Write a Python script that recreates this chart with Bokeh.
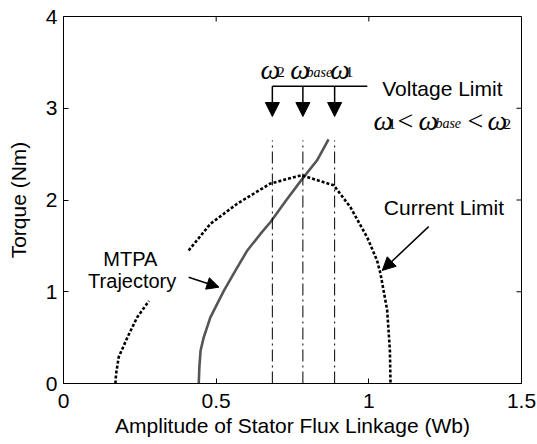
from bokeh.plotting import figure
from bokeh.models import (Range1d, FixedTicker, CustomJSTickFormatter, Label, Arrow,
                          NormalHead, ColumnDataSource)
from bokeh.embed import file_html
from bokeh.resources import INLINE

# ---------------- data ----------------
x_ticks = [0, 0.5, 1, 1.5]
y_ticks = [0, 1, 2, 3, 4]

# MTPA trajectory (solid grey)
mtpa_flux = [0.443, 0.445, 0.449, 0.459, 0.481, 0.525, 0.563, 0.602, 0.645, 0.678, 0.730, 0.782, 0.830, 0.868]
mtpa_torque = [0.00, 0.18, 0.36, 0.50, 0.72, 1.01, 1.23, 1.45, 1.63, 1.76, 2.00, 2.23, 2.43, 2.66]

# current limit (dotted), lower-left part and main part
cur_flux_a = [0.170, 0.172, 0.181, 0.209, 0.241, 0.280]
cur_torque_a = [0.00, 0.10, 0.29, 0.50, 0.72, 0.90]
cur_flux_b = [0.410, 0.481, 0.569, 0.678, 0.780, 0.885, 0.940, 0.995, 1.027, 1.038, 1.060, 1.069, 1.071]
cur_torque_b = [1.45, 1.74, 1.96, 2.18, 2.27, 2.16, 1.92, 1.59, 1.34, 1.20, 0.80, 0.36, 0.00]

# voltage limit lines (omega_2, omega_base, omega_1)
vl_flux = [0.684, 0.784, 0.888]
vl_top = 2.65
vl_bar = 3.24        # horizontal bar of the bracket
vl_tip = 2.91        # arrow tips
vl_bar_end = 0.995

FONT = "Liberation Sans"
SERIF = "Liberation Serif"

X0, X1, Y0, Y1 = 0, 1.5, 0, 4
FRAME_W, FRAME_H = 458, 367
TICK = 5  # px, inward ticks

p = figure(width=537, height=444, x_range=Range1d(X0, X1), y_range=Range1d(Y0, Y1),
           output_backend="svg", toolbar_location=None,
           min_border_left=63, min_border_right=16, min_border_top=16, min_border_bottom=61)
p.background_fill_color = "white"
p.border_fill_color = "white"
p.grid.visible = False
p.outline_line_color = "black"
p.outline_line_width = 1
p.outline_line_alpha = 1

fmt = CustomJSTickFormatter(code="return tick.toString()")
for ax, ticks in ((p.xaxis[0], x_ticks), (p.yaxis[0], y_ticks)):
    ax.ticker = FixedTicker(ticks=ticks)
    ax.formatter = fmt
    ax.major_tick_in = TICK
    ax.major_tick_out = 0
    ax.minor_tick_in = 0
    ax.minor_tick_out = 0
    ax.axis_line_color = "black"
    ax.major_tick_line_color = "black"
    ax.major_label_text_font = FONT
    ax.major_label_text_font_size = "21px"
    ax.major_label_text_color = "black"
    ax.axis_label_text_font = FONT
    ax.axis_label_text_font_size = "21px"
    ax.axis_label_text_font_style = "normal"
    ax.axis_label_text_color = "black"

p.xaxis.axis_label = "Amplitude of Stator Flux Linkage (Wb)"
p.xaxis.major_label_standoff = 10
p.xaxis.axis_label_standoff = 3
p.yaxis.axis_label = "Torque (Nm)"
p.yaxis.major_label_standoff = 6
p.yaxis.axis_label_standoff = 13

# mirror ticks on top and right edges (box on)
dy = TICK * (Y1 - Y0) / FRAME_H
dx = TICK * (X1 - X0) / FRAME_W
p.segment(x0=x_ticks, y0=[Y1] * len(x_ticks), x1=x_ticks, y1=[Y1 - dy] * len(x_ticks),
          line_color="black", line_width=1)
p.segment(x0=[X1] * len(y_ticks), y0=y_ticks, x1=[X1 - dx] * len(y_ticks), y1=y_ticks,
          line_color="black", line_width=1)

# curves
p.line(mtpa_flux, mtpa_torque, line_color="#555555", line_width=2.6)
p.line(cur_flux_a, cur_torque_a, line_color="black", line_width=2.6, line_dash="3 2")
p.line(cur_flux_b, cur_torque_b, line_color="black", line_width=2.6, line_dash="3 2")

# voltage limit dash-dot lines
vl_src = ColumnDataSource(dict(x=vl_flux, y0=[0] * len(vl_flux), y1=[vl_top] * len(vl_flux)))
p.segment(x0="x", y0="y0", x1="x", y1="y1", source=vl_src, line_color="black",
          line_width=1, line_dash="12 4 2 4")

# bracket with arrows
p.segment(x0=[vl_flux[0]], y0=[vl_bar], x1=[vl_bar_end], y1=[vl_bar], line_color="black", line_width=1.5)
for xv in vl_flux:
    p.add_layout(Arrow(end=NormalHead(size=14, fill_color="black", line_color="black"),
                       x_start=xv, y_start=vl_bar, x_end=xv, y_end=vl_tip,
                       line_color="black", line_width=1.5))

# annotation arrows
p.add_layout(Arrow(end=NormalHead(size=12, fill_color="black", line_color="black"),
                   x_start=0.410, y_start=1.158, x_end=0.509, y_end=1.05,
                   line_color="black", line_width=1.5))
p.add_layout(Arrow(end=NormalHead(size=13, fill_color="black", line_color="black"),
                   x_start=1.196, y_start=1.71, x_end=1.044, y_end=1.232,
                   line_color="black", line_width=1.5))


def lab(text, x, y, size="21px", font=FONT, style="normal", align="left"):
    p.add_layout(Label(x=x, y=y, text=text, text_font=font, text_font_size=size,
                       text_font_style=style, text_align=align, text_baseline="alphabetic",
                       text_color="black"))


lab("Voltage Limit", 1.044, 3.215)
lab("Current Limit", 1.049, 1.918)
lab("MTPA", 0.219, 1.355, size="20px", align="center")
lab("Trajectory", 0.225, 1.112, size="20px", align="center")

OM = "28px"
SUB = "15px"
BASE = "14px"
# row 1: omega_2  omega_base  omega_1
lab("\u03c9", 0.645, 3.425, size=OM, font=SERIF, style="italic")
lab("2", 0.700, 3.392, size=SUB, font=SERIF)
lab("\u03c9", 0.743, 3.425, size=OM, font=SERIF, style="italic")
lab("base", 0.796, 3.387, size=BASE, font=SERIF, style="italic")
lab("\u03c9", 0.874, 3.425, size=OM, font=SERIF, style="italic")
lab("1", 0.924, 3.392, size=SUB, font=SERIF)
# row 2: omega_1 < omega_base < omega_2
lab("\u03c9", 1.015, 2.863, size=OM, font=SERIF, style="italic")
lab("1", 1.064, 2.830, size=SUB, font=SERIF)
lab("<", 1.094, 2.863, size=OM, font=SERIF)
lab("\u03c9", 1.163, 2.863, size=OM, font=SERIF, style="italic")
lab("base", 1.218, 2.830, size=BASE, font=SERIF, style="italic")
lab("<", 1.323, 2.863, size=OM, font=SERIF)
lab("\u03c9", 1.389, 2.863, size=OM, font=SERIF, style="italic")
lab("2", 1.441, 2.830, size=SUB, font=SERIF)

open("out.html", "w").write(file_html(p, INLINE))
